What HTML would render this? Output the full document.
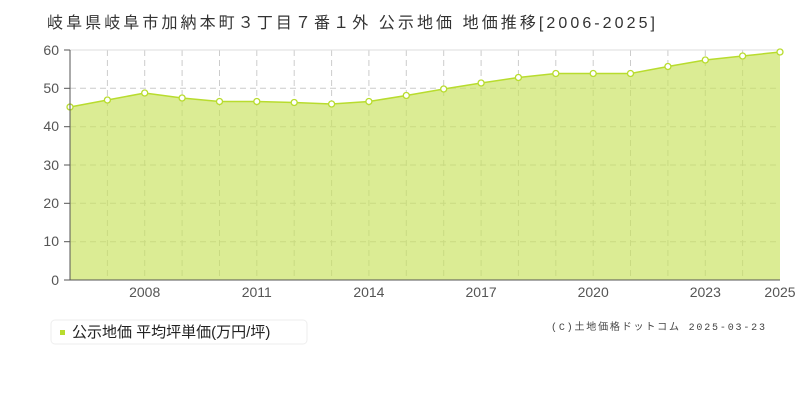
<!DOCTYPE html>
<html><head><meta charset="utf-8"><style>
body{margin:0;background:#fff;width:800px;height:400px;overflow:hidden;font-family:"Liberation Sans","Noto Sans CJK JP",sans-serif}
</style></head><body>
<svg width="800" height="400" xmlns="http://www.w3.org/2000/svg" font-family="Liberation Sans, Noto Sans CJK JP, sans-serif">
<text x="47" y="28" font-size="16" fill="#333" textLength="608" lengthAdjust="spacing">岐阜県岐阜市加納本町３丁目７番１外 公示地価 地価推移[2006-2025]</text>
<rect x="70" y="50" width="710" height="230" fill="#fff"/>
<g stroke="#ccc" stroke-dasharray="6,4" stroke-width="1">
<line x1="70" y1="88.3" x2="780" y2="88.3"/><line x1="70" y1="126.7" x2="780" y2="126.7"/><line x1="70" y1="165" x2="780" y2="165"/><line x1="70" y1="203.3" x2="780" y2="203.3"/><line x1="70" y1="241.7" x2="780" y2="241.7"/>
<line x1="107.4" y1="50" x2="107.4" y2="280"/><line x1="144.7" y1="50" x2="144.7" y2="280"/><line x1="182.1" y1="50" x2="182.1" y2="280"/><line x1="219.5" y1="50" x2="219.5" y2="280"/><line x1="256.8" y1="50" x2="256.8" y2="280"/><line x1="294.2" y1="50" x2="294.2" y2="280"/><line x1="331.6" y1="50" x2="331.6" y2="280"/><line x1="368.9" y1="50" x2="368.9" y2="280"/><line x1="406.3" y1="50" x2="406.3" y2="280"/><line x1="443.7" y1="50" x2="443.7" y2="280"/><line x1="481.1" y1="50" x2="481.1" y2="280"/><line x1="518.4" y1="50" x2="518.4" y2="280"/><line x1="555.8" y1="50" x2="555.8" y2="280"/><line x1="593.2" y1="50" x2="593.2" y2="280"/><line x1="630.5" y1="50" x2="630.5" y2="280"/><line x1="667.9" y1="50" x2="667.9" y2="280"/><line x1="705.3" y1="50" x2="705.3" y2="280"/><line x1="742.6" y1="50" x2="742.6" y2="280"/>
</g>
<line x1="70" y1="50" x2="780" y2="50" stroke="#ddd"/>
<polygon fill="#c8e25a" fill-opacity="0.65" points="70,280 70,107 107.4,100 144.7,93 182.1,98 219.5,101.5 256.8,101.5 294.2,102.5 331.6,104 368.9,101.5 406.3,95.5 443.7,89 481.1,83 518.4,77.5 555.8,73.5 593.2,73.5 630.5,73.5 667.9,66.5 705.3,60 742.6,56 780,52 780,280"/>
<polyline fill="none" stroke="#b8dc2e" stroke-width="1.5" points="70,107 107.4,100 144.7,93 182.1,98 219.5,101.5 256.8,101.5 294.2,102.5 331.6,104 368.9,101.5 406.3,95.5 443.7,89 481.1,83 518.4,77.5 555.8,73.5 593.2,73.5 630.5,73.5 667.9,66.5 705.3,60 742.6,56 780,52"/>
<g fill="#fff" stroke="#b8dc2e" stroke-width="1.3">
<circle cx="70" cy="107" r="3"/><circle cx="107.4" cy="100" r="3"/><circle cx="144.7" cy="93" r="3"/><circle cx="182.1" cy="98" r="3"/><circle cx="219.5" cy="101.5" r="3"/><circle cx="256.8" cy="101.5" r="3"/><circle cx="294.2" cy="102.5" r="3"/><circle cx="331.6" cy="104" r="3"/><circle cx="368.9" cy="101.5" r="3"/><circle cx="406.3" cy="95.5" r="3"/><circle cx="443.7" cy="89" r="3"/><circle cx="481.1" cy="83" r="3"/><circle cx="518.4" cy="77.5" r="3"/><circle cx="555.8" cy="73.5" r="3"/><circle cx="593.2" cy="73.5" r="3"/><circle cx="630.5" cy="73.5" r="3"/><circle cx="667.9" cy="66.5" r="3"/><circle cx="705.3" cy="60" r="3"/><circle cx="742.6" cy="56" r="3"/><circle cx="780" cy="52" r="3"/>
</g>
<g stroke="#555" stroke-width="1">
<line x1="70" y1="50" x2="70" y2="280"/><line x1="70" y1="280" x2="780" y2="280"/>
<line x1="64" y1="50" x2="70" y2="50"/><line x1="64" y1="88.3" x2="70" y2="88.3"/><line x1="64" y1="126.7" x2="70" y2="126.7"/><line x1="64" y1="165" x2="70" y2="165"/><line x1="64" y1="203.3" x2="70" y2="203.3"/><line x1="64" y1="241.7" x2="70" y2="241.7"/><line x1="64" y1="280" x2="70" y2="280"/>
</g>
<g font-size="14" fill="#555" text-anchor="end">
<text x="59" y="55">60</text><text x="59" y="93">50</text><text x="59" y="131">40</text><text x="59" y="170">30</text><text x="59" y="208">20</text><text x="59" y="246">10</text><text x="59" y="285">0</text>
</g>
<g font-size="14" fill="#555" text-anchor="middle">
<text x="144.7" y="297">2008</text><text x="256.8" y="297">2011</text><text x="368.9" y="297">2014</text><text x="481.1" y="297">2017</text><text x="593.2" y="297">2020</text><text x="705.3" y="297">2023</text><text x="780" y="297">2025</text>
</g>
<rect x="51" y="320" width="256" height="24" rx="4" fill="#fff" stroke="#eee"/>
<rect x="60" y="330" width="5" height="5" fill="#b8dc2e"/>
<text x="72" y="337" font-size="15" fill="#222">公示地価 平均坪単価(万円/坪)</text>
<text x="551" y="330" font-size="10" fill="#444" font-family="Liberation Mono, Noto Sans CJK JP, monospace" textLength="214" lengthAdjust="spacing">(C)土地価格ドットコム 2025-03-23</text>
</svg>
</body></html>
